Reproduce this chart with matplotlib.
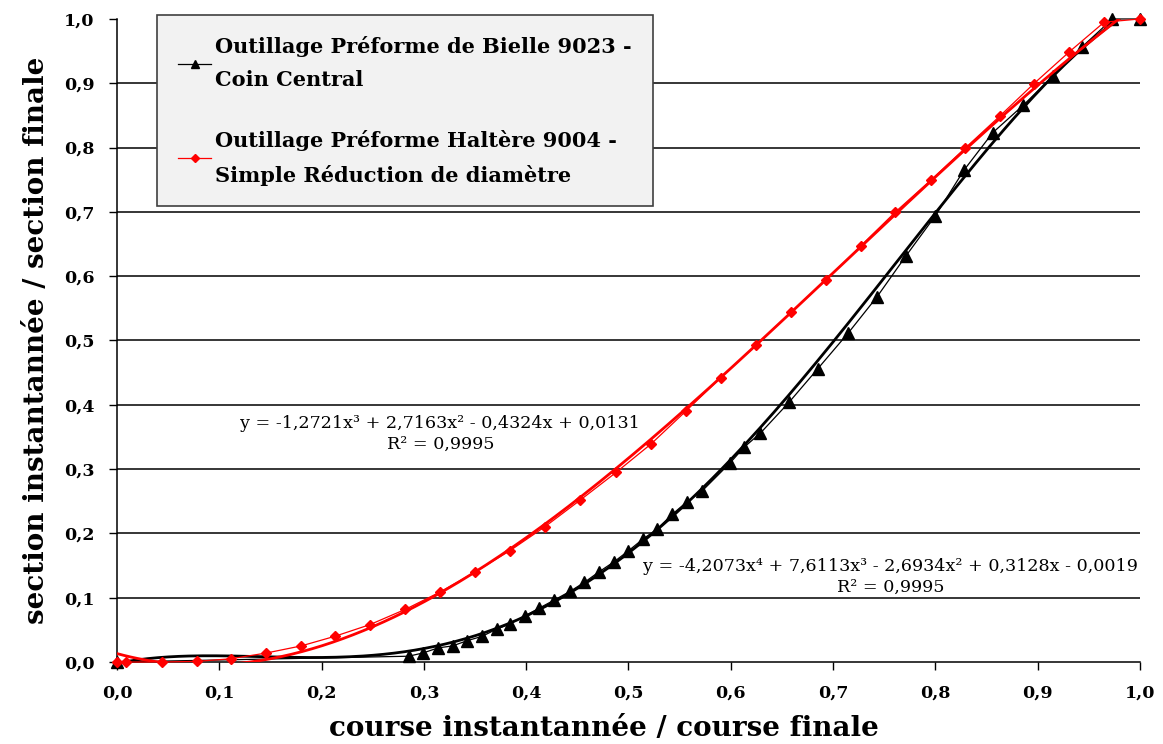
import matplotlib
matplotlib.use("Agg")
import matplotlib.pyplot as plt
import numpy as np

# Outillage Préforme de Bielle 9023 - Coin Central
bielle_x = [0.0, 0.285, 0.299, 0.314, 0.328, 0.342, 0.357, 0.371, 0.384, 0.399,
            0.413, 0.427, 0.443, 0.457, 0.471, 0.486, 0.500, 0.514, 0.528, 0.543,
            0.557, 0.572, 0.599, 0.613, 0.629, 0.657, 0.685, 0.715, 0.743, 0.771,
            0.800, 0.828, 0.856, 0.886, 0.915, 0.943, 0.973, 1.0]
bielle_y = [0.0, 0.009, 0.014, 0.022, 0.025, 0.033, 0.040, 0.051, 0.059, 0.072,
            0.084, 0.096, 0.110, 0.124, 0.140, 0.156, 0.173, 0.191, 0.207, 0.230,
            0.249, 0.266, 0.309, 0.334, 0.356, 0.404, 0.456, 0.512, 0.568, 0.631,
            0.694, 0.765, 0.823, 0.866, 0.911, 0.956, 1.0, 1.0]

# Outillage Préforme Haltère 9004 - Simple Réduction de diamètre
haltere_x = [0.0, 0.009, 0.044, 0.078, 0.111, 0.146, 0.180, 0.213, 0.247, 0.282,
             0.316, 0.350, 0.384, 0.418, 0.453, 0.488, 0.522, 0.556, 0.590, 0.625,
             0.659, 0.693, 0.727, 0.761, 0.796, 0.829, 0.863, 0.896, 0.931, 0.965, 1.0]
haltere_y = [0.0, 0.0, 0.0, 0.001, 0.005, 0.014, 0.025, 0.040, 0.058, 0.082,
             0.109, 0.140, 0.173, 0.210, 0.252, 0.295, 0.339, 0.390, 0.442, 0.493,
             0.544, 0.594, 0.647, 0.700, 0.750, 0.799, 0.849, 0.899, 0.949, 0.995, 1.0]

# polynomial trendlines (highest degree first)
bielle_fit = [-4.2073, 7.6113, -2.6934, 0.3128, -0.0019]
haltere_fit = [-1.2721, 2.7163, -0.4324, 0.0131]

fig = plt.figure(figsize=(11.63, 7.44), dpi=100)
ax = fig.add_axes([0.1006, 0.1102, 0.8796, 0.8643])

xs = np.linspace(0, 1, 300)

for yv in np.arange(0.1, 0.95, 0.1):
    ax.axhline(yv, color="black", lw=1.1, zorder=1)

ax.plot(xs, np.polyval(bielle_fit, xs), color="black", lw=2.0, zorder=3)
l1, = ax.plot(bielle_x, bielle_y, color="black", lw=0.9, marker="^", markersize=8,
              zorder=4, clip_on=False,
              label="Outillage Préforme de Bielle 9023 -\nCoin Central")
ax.plot(xs, np.polyval(haltere_fit, xs), color="red", lw=2.0, zorder=5)
l2, = ax.plot(haltere_x, haltere_y, color="red", lw=0.9, marker="D", markersize=5.5,
              zorder=6, clip_on=False,
              label="Outillage Préforme Haltère 9004 -\nSimple Réduction de diamètre")

ax.set_xlim(0, 1)
ax.set_ylim(0, 1)
ticks = np.round(np.arange(0, 1.01, 0.1), 1)
ax.set_xticks(ticks)
ax.set_yticks(ticks)
fmt = [f"{t:.1f}".replace(".", ",") for t in ticks]
ax.set_xticklabels(fmt, fontfamily="DejaVu Serif", fontweight="bold", fontsize=12.5)
ax.set_yticklabels(fmt, fontfamily="DejaVu Serif", fontweight="bold", fontsize=12.5)
ax.tick_params(direction="out", length=6, width=1, color="black")
ax.tick_params(axis="x", pad=10)
ax.tick_params(axis="y", pad=10)

for s in ["top", "right"]:
    ax.spines[s].set_visible(False)
for s in ["left", "bottom"]:
    ax.spines[s].set_linewidth(1.1)

ax.set_xlabel("course instantannée / course finale", fontfamily="DejaVu Serif",
              fontweight="bold", fontsize=20, labelpad=8)
ax.xaxis.set_label_coords(0.476, -0.083)
ax.set_ylabel("section instantannée / section finale", fontfamily="DejaVu Serif",
              fontweight="bold", fontsize=20, labelpad=10)

ax.text(0.316, 0.354, "y = -1,2721x³ + 2,7163x² - 0,4324x + 0,0131\nR² = 0,9995",
        ha="center", va="center", fontfamily="DejaVu Serif", fontsize=12.6,
        linespacing=1.3, zorder=7)
ax.text(0.756, 0.132, "y = -4,2073x⁴ + 7,6113x³ - 2,6934x² + 0,3128x - 0,0019\nR² = 0,9995",
        ha="center", va="center", fontfamily="DejaVu Serif", fontsize=12.6,
        linespacing=1.3, zorder=7)

leg = fig.legend(handles=[l1, l2], loc="upper left", bbox_to_anchor=(0.135, 0.9798),
                 prop={"family": "DejaVu Serif", "weight": "bold", "size": 15},
                 frameon=True, fancybox=False, handlelength=1.6, handletextpad=0.2,
                 labelspacing=1.9, borderpad=1.0, borderaxespad=0, markerscale=0.8)
for t in leg.get_texts():
    t.set_linespacing(1.82)
leg.get_frame().set_facecolor("#f2f2f2")
leg.get_frame().set_edgecolor("#404040")
leg.get_frame().set_linewidth(1.2)
leg.get_frame().set_alpha(1)

fig.savefig("out.png", dpi=100)
